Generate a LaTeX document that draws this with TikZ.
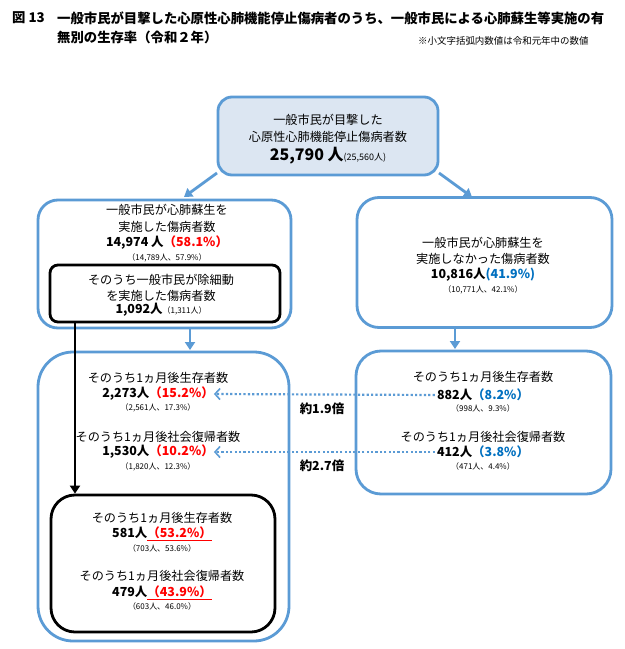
\documentclass[tikz,border=0pt]{standalone}
\usepackage{fontspec}
\setmainfont{Noto Sans CJK JP}
\usetikzlibrary{arrows.meta}
\definecolor{bbl}{RGB}{91,155,213}
\definecolor{bfill}{RGB}{220,230,242}
\definecolor{pblue}{RGB}{0,112,192}
\definecolor{pred}{RGB}{255,0,0}
\begin{document}
\begin{tikzpicture}[x=1bp,y=-1bp,
  bluebox/.style={draw=bbl,line width=2.8bp,inner sep=0pt},
  blackbox/.style={draw=black,line width=2.8bp,inner sep=0pt},
  t/.style={inner sep=0pt,font=\fontsize{12.2}{14}\selectfont},
  sm/.style={inner sep=0pt,font=\fontsize{8}{9}\selectfont},
  num/.style={inner sep=0pt,font=\fontsize{12.5}{14}\selectfont\bfseries},
  barrow/.style={draw=bbl,line width=2.8bp,-{Triangle[length=8bp,width=10bp]}},
  karrow/.style={draw=black,line width=2.8bp,-{Triangle[length=8bp,width=10bp]}},
  darrow/.style={draw=bbl,line width=2.2bp,dash pattern=on 2.2bp off 2.2bp,-{Straight Barb[length=5bp,width=11bp,line width=1.6bp]}},
  ratio/.style={inner sep=0pt,font=\fontsize{12.5}{14}\selectfont\bfseries}
]
\useasboundingbox (0,0) rectangle (625,649);
\fill[white] (0,0) rectangle (625,649);

% title
\node[anchor=west,inner sep=0pt,font=\fontsize{13.4}{15}\selectfont\bfseries] (ttlA) at (12,18) {図 13};
\node[anchor=west,inner sep=0pt,font=\fontsize{13.4}{15}\selectfont\bfseries] (ttlB) at (57,18) {一般市民が目撃した心原性心肺機能停止傷病者のうち、一般市民による心肺蘇生等実施の有};
\node[anchor=west,inner sep=0pt,font=\fontsize{13.4}{15}\selectfont\bfseries] (ttlC) at (57,37) {無別の生存率（令和２年）};
\node[anchor=west,inner sep=0pt,font=\fontsize{9.5}{11}\selectfont] (note) at (418,41) {※小文字括弧内数値は令和元年中の数値};

% boxes
\node[bluebox,fill=bfill,rounded corners=14bp,minimum width=220bp,minimum height=78bp] (top) at (328,136) {};
\node[bluebox,rounded corners=20bp,minimum width=253bp,minimum height=128bp] (L1) at (164.5,264) {};
\node[blackbox,rounded corners=8bp,minimum width=230bp,minimum height=57bp] (L1in) at (165,293.5) {};
\node[bluebox,rounded corners=22bp,minimum width=255bp,minimum height=130bp] (R1) at (484.5,262.5) {};
\node[bluebox,rounded corners=35bp,minimum width=251bp,minimum height=289bp] (L2) at (163.5,496.5) {};
\node[bluebox,rounded corners=25bp,minimum width=255bp,minimum height=143bp] (R2) at (483.5,422.5) {};
\node[blackbox,rounded corners=24bp,minimum width=224bp,minimum height=137bp] (L3) at (163,563.5) {};

% top texts
\node[t] (top1) at (328,120) {一般市民が目撃した};
\node[t] (top2) at (328,137) {心原性心肺機能停止傷病者数};
\node[inner sep=0pt] (top3) at (328,156) {{\fontsize{16}{18}\selectfont\bfseries 25,790 人}{\fontsize{9}{10}\selectfont(25,560人)}};

% L1 texts
\node[t] (l11) at (167,210) {一般市民が心肺蘇生を};
\node[t] (l12) at (167,227) {実施した傷病者数};
\node[num] (l13) at (167,243) {14,974 人\textcolor{pred}{（58.1\%）}};
\node[sm] (l14) at (167,258) {（14,789人、57.9\%）};
\node[t] (l15) at (161,280) {そのうち一般市民が除細動};
\node[t] (l16) at (161,296) {を実施した傷病者数};
\node[inner sep=0pt] (l17) at (161,310) {{\fontsize{12.5}{14}\selectfont\bfseries 1,092人}{\fontsize{8}{9}\selectfont（1,311人）}};

% R1 texts
\node[t] (r11) at (483,243) {一般市民が心肺蘇生を};
\node[t] (r12) at (483,259) {実施しなかった傷病者数};
\node[num] (r13) at (483,275) {10,816人\textcolor{pblue}{(41.9\%)}};
\node[sm] (r14) at (483,290) {（10,771人、42.1\%）};

% L2 texts
\node[t] (l21) at (158,378) {そのうち1ヵ月後生存者数};
\node[num] (l22) at (158,394) {2,273人\textcolor{pred}{（15.2\%）}};
\node[sm] (l23) at (158,408) {（2,561人、17.3\%）};
\node[t] (l24) at (158,437) {そのうち1ヵ月後社会復帰者数};
\node[num] (l25) at (158,452) {1,530人\textcolor{pred}{（10.2\%）}};
\node[sm] (l26) at (158,467) {（1,820人、12.3\%）};

% R2 texts
\node[t] (r21) at (483,377) {そのうち1ヵ月後生存者数};
\node[num] (r22) at (483,395) {882人\textcolor{pblue}{（8.2\%）}};
\node[sm] (r23) at (483,408) {（998人、9.3\%）};
\node[t] (r24) at (483,437) {そのうち1ヵ月後社会復帰者数};
\node[num] (r25) at (483,452) {412人\textcolor{pblue}{（3.8\%）}};
\node[sm] (r26) at (483,466) {（471人、4.4\%）};

% L3 texts
\node[t] (l31) at (162,518) {そのうち1ヵ月後生存者数};
\node[num] (l32) at (162,534) {581人\textcolor{pred}{\underline{（53.2\%）}}};
\node[sm] (l33) at (162,548) {（703人、53.6\%）};
\node[t] (l34) at (162,576) {そのうち1ヵ月後社会復帰者数};
\node[num] (l35) at (162,593) {479人\textcolor{pred}{\underline{（43.9\%）}}};
\node[sm] (l36) at (162,606) {（603人、46.0\%）};

% ratios
\node[ratio] (rat1) at (322,409) {約1.9倍};
\node[ratio] (rat2) at (322,466) {約2.7倍};

% connectors
\coordinate (a1s) at (217,173);
\coordinate (a1e) at (184,197);
\coordinate (a2s) at (439,173);
\coordinate (a2e) at (472,197);
\draw[barrow] (a1s) -- (a1e);
\draw[barrow] (a2s) -- (a2e);
\draw[barrow] (L1.south -| 190,0) -- (190,350);
\draw[barrow] (R1.south -| 455,0) -- (455,349);
\draw[karrow] (L1in.south -| 75,0) -- (L3.north -| 75,0);
\draw[darrow] (r22.west) ++(-2,0) -- (l22.east);
\draw[darrow] (r25.west) ++(-2,0) -- (l25.east);
\end{tikzpicture}
\end{document}
